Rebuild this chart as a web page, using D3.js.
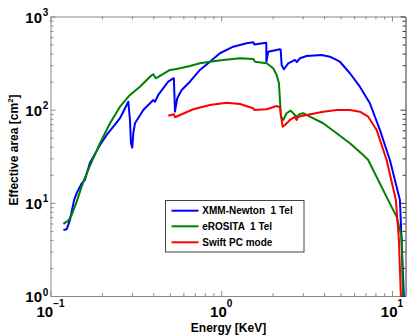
<!DOCTYPE html>
<html><head><meta charset="utf-8">
<script src="https://cdn.jsdelivr.net/npm/d3@7"></script>
<style>
body{margin:0;background:#fff}
svg{display:block}
text{font-family:"Liberation Sans",Arial,Helvetica,sans-serif;font-weight:bold;fill:#000}
</style>
</head><body>
<svg id="chart" width="411" height="336"></svg>
<script>
// ---- data ----
const seriesNames = ["XMM-Newton  1 Tel", "eROSITA  1 Tel", "Swift PC mode"];
const seriesColors = ["#0000ff", "#008000", "#ff0000"];

const xmmEnergy = [0.119,0.1244,0.130,0.1374,0.1423,0.1524,0.159,0.170,0.195,0.2133,0.2333,0.2553,0.2731,0.2855,0.292,0.296,0.3013,0.3054,0.3125,0.3495,0.3995,0.409,0.4277,0.4894,0.5236,0.528,0.5358,0.5525,0.5862,0.6556,0.750,0.8587,0.9826,1.176,1.408,1.539,1.565,1.827,1.835,1.839,1.884,2.207,2.23,2.258,2.328,2.468,2.701,2.775,2.889,3.16,3.871,4.329,4.955,5.669,6.486,7.42,8.495,9.72,11.13,11.74,11.9];
const xmmArea   = [5.12,5.21,6.55,10.7,12.7,16.2,17.6,26.8,41.8,53.5,65.7,80.9,103.5,121.8,77.5,43.6,39.1,55.8,71.5,99.3,127,121.8,143.8,199.7,217,216,95.2,132.5,162.7,199.7,266.7,327,403,474,516,529,501,523.6,523,327,419,444.7,440,301.8,271.4,314.6,341.5,325,356,376.9,386,370.5,327,245.9,176.5,117.2,60.6,28.8,10.7,1.0,0.5];

const eroEnergy = [0.119,0.1271,0.133,0.1423,0.1556,0.1742,0.195,0.2231,0.2553,0.292,0.3342,0.3825,0.3995,0.4147,0.4377,0.5008,0.5358,0.5731,0.6556,0.750,0.8587,1.027,1.287,1.539,1.575,1.845,2.016,2.111,2.177,2.207,2.236,2.307,2.415,2.549,2.665,2.764,2.889,3.02,3.307,3.955,4.74,5.669,6.783,7.255,9.50,10.64,11.38,11.58,11.7];
const eroArea   = [5.94,6.44,7.41,10.3,16.9,27.5,43.6,71.5,107.7,143.8,176.5,226,239.8,217,229.9,266.7,271.4,278.2,294.3,314.6,327,341.5,356,349.9,327,314.6,278.2,235.7,192,127,84.1,77.5,91.5,97.6,89.9,84.1,89.9,91.5,84.1,71.5,55.8,43.6,32.7,28.8,10.7,7.11,4.34,1.0,0.5];

const swiftEnergy = [0.4894,0.5284,0.5358,0.5731,0.6858,0.8587,1.0755,1.287,1.539,1.56,1.845,2.111,2.207,2.258,2.288,2.361,2.525,2.701,2.764,2.824,3.16,3.955,4.74,5.669,6.486,7.255,8.126,9.30,10.54,10.98,11.27,11.4];
const swiftArea   = [86.2,89.2,82.9,87.7,101,112.3,118.9,115.1,103.5,99.3,101,109.6,106.1,77.5,65.7,68.5,77.5,83.5,77.5,84.1,87.7,95.2,99.3,99.3,95.2,84.1,60.6,28.8,10.7,4.0,1.0,0.5];

const xMajorTicks = [0.1, 1, 10];
const xMajorExp   = ["\u22121", "0", "1"];
const yMajorTicks = [1, 10, 100, 1000];
const yMajorExp   = ["0", "1", "2", "3"];
const xMinorTicks = [0.2,0.3,0.4,0.5,0.6,0.7,0.8,0.9,2,3,4,5,6,7,8,9];
const yMinorTicks = [2,3,4,5,6,7,8,9,20,30,40,50,60,70,80,90,200,300,400,500,600,700,800,900];

const xLabel = "Energy [KeV]";
const yLabel = "Effective area [cm";

// ---- layout ----
const L = 50.5, R = 405.5, T = 16.5, B = 296;
const svg = d3.select("#chart");
const x = d3.scaleLog().domain([0.1, 12]).range([L, R]);
const y = d3.scaleLog().domain([1, 1000]).range([B, T]);

svg.append("rect").attr("width",411).attr("height",336).attr("fill","#fff");

svg.append("defs").append("clipPath").attr("id","clip")
  .append("rect").attr("x",L).attr("y",T).attr("width",R-L).attr("height",B-T);

// ---- curves ----
const line = d3.line().x(d => x(d[0])).y(d => y(d[1]));
const allSeries = [
  d3.zip(xmmEnergy, xmmArea),
  d3.zip(eroEnergy, eroArea),
  d3.zip(swiftEnergy, swiftArea)
];
const g = svg.append("g").attr("clip-path","url(#clip)");
allSeries.forEach((s,i) => {
  g.append("path").attr("d", line(s)).attr("fill","none")
    .attr("stroke", seriesColors[i]).attr("stroke-width", 2)
    .attr("stroke-linejoin","round");
});

// ---- axes ----
const grey = "#8a8a8a", dark = "#333";
function styleAxis(sel, col, keepDomain){
  sel.selectAll("text").remove();
  sel.selectAll("line").attr("stroke", col);
  if (keepDomain) sel.select(".domain").attr("stroke", col);
  else sel.select(".domain").remove();
}
function addAxis(axisFn, scale, transform, col){
  const a1 = svg.append("g").attr("transform", transform)
    .call(axisFn(scale).tickValues(scale===x ? xMinorTicks : yMinorTicks).tickSizeInner(-3).tickSizeOuter(0).tickFormat(""));
  styleAxis(a1, col, true);
  const a2 = svg.append("g").attr("transform", transform)
    .call(axisFn(scale).tickValues(scale===x ? xMajorTicks : yMajorTicks).tickSizeInner(-5).tickSizeOuter(0).tickFormat(""));
  styleAxis(a2, col, false);
}
addAxis(d3.axisBottom, x, `translate(0,${B})`, grey);
addAxis(d3.axisTop, x, `translate(0,${T})`, grey);
addAxis(d3.axisLeft, y, `translate(${L},0)`, grey);
addAxis(d3.axisRight, y, `translate(${R},0)`, dark);

// ---- tick labels ----
xMajorTicks.forEach((v,i) => {
  const t = svg.append("text").attr("x", x(v)).attr("y", 317).attr("text-anchor","middle");
  t.append("tspan").attr("font-size",15).text("10");
  t.append("tspan").attr("font-size",10).attr("dy",-10).text(xMajorExp[i]);
});
yMajorTicks.forEach((v,i) => {
  svg.append("text").attr("x", 42).attr("y", y(v)+6.3).attr("text-anchor","end")
    .attr("font-size",15).text("10");
  svg.append("text").attr("x", 42.8).attr("y", y(v)-0.5).attr("font-size",10).text(yMajorExp[i]);
});

// ---- axis titles ----
svg.append("text").attr("x", 228.5).attr("y", 331.5).attr("text-anchor","middle")
  .attr("font-size",12).text(xLabel);
const yt = svg.append("text").attr("transform","translate(17.5,150) rotate(-90)")
  .attr("text-anchor","middle").attr("font-size",12);
yt.append("tspan").text(yLabel);
yt.append("tspan").attr("font-size",8).attr("dy",-5).text("2");
yt.append("tspan").attr("dy",5).text("]");

// ---- legend ----
const lg = svg.append("g");
lg.append("rect").attr("x",165.5).attr("y",200.5).attr("width",138.5).attr("height",51.5)
  .attr("fill","#fff").attr("stroke","#444").attr("stroke-width",1);
const rowY = [210.7, 226.3, 242.3];
seriesNames.forEach((n,i) => {
  lg.append("line").attr("x1",171.5).attr("x2",198.5).attr("y1",rowY[i]).attr("y2",rowY[i])
    .attr("stroke",seriesColors[i]).attr("stroke-width",2);
  lg.append("text").attr("x",202.3).attr("y",rowY[i]+3.6).attr("font-size",10)
    .style("white-space","pre").text(n);
});
</script>
</body></html>
